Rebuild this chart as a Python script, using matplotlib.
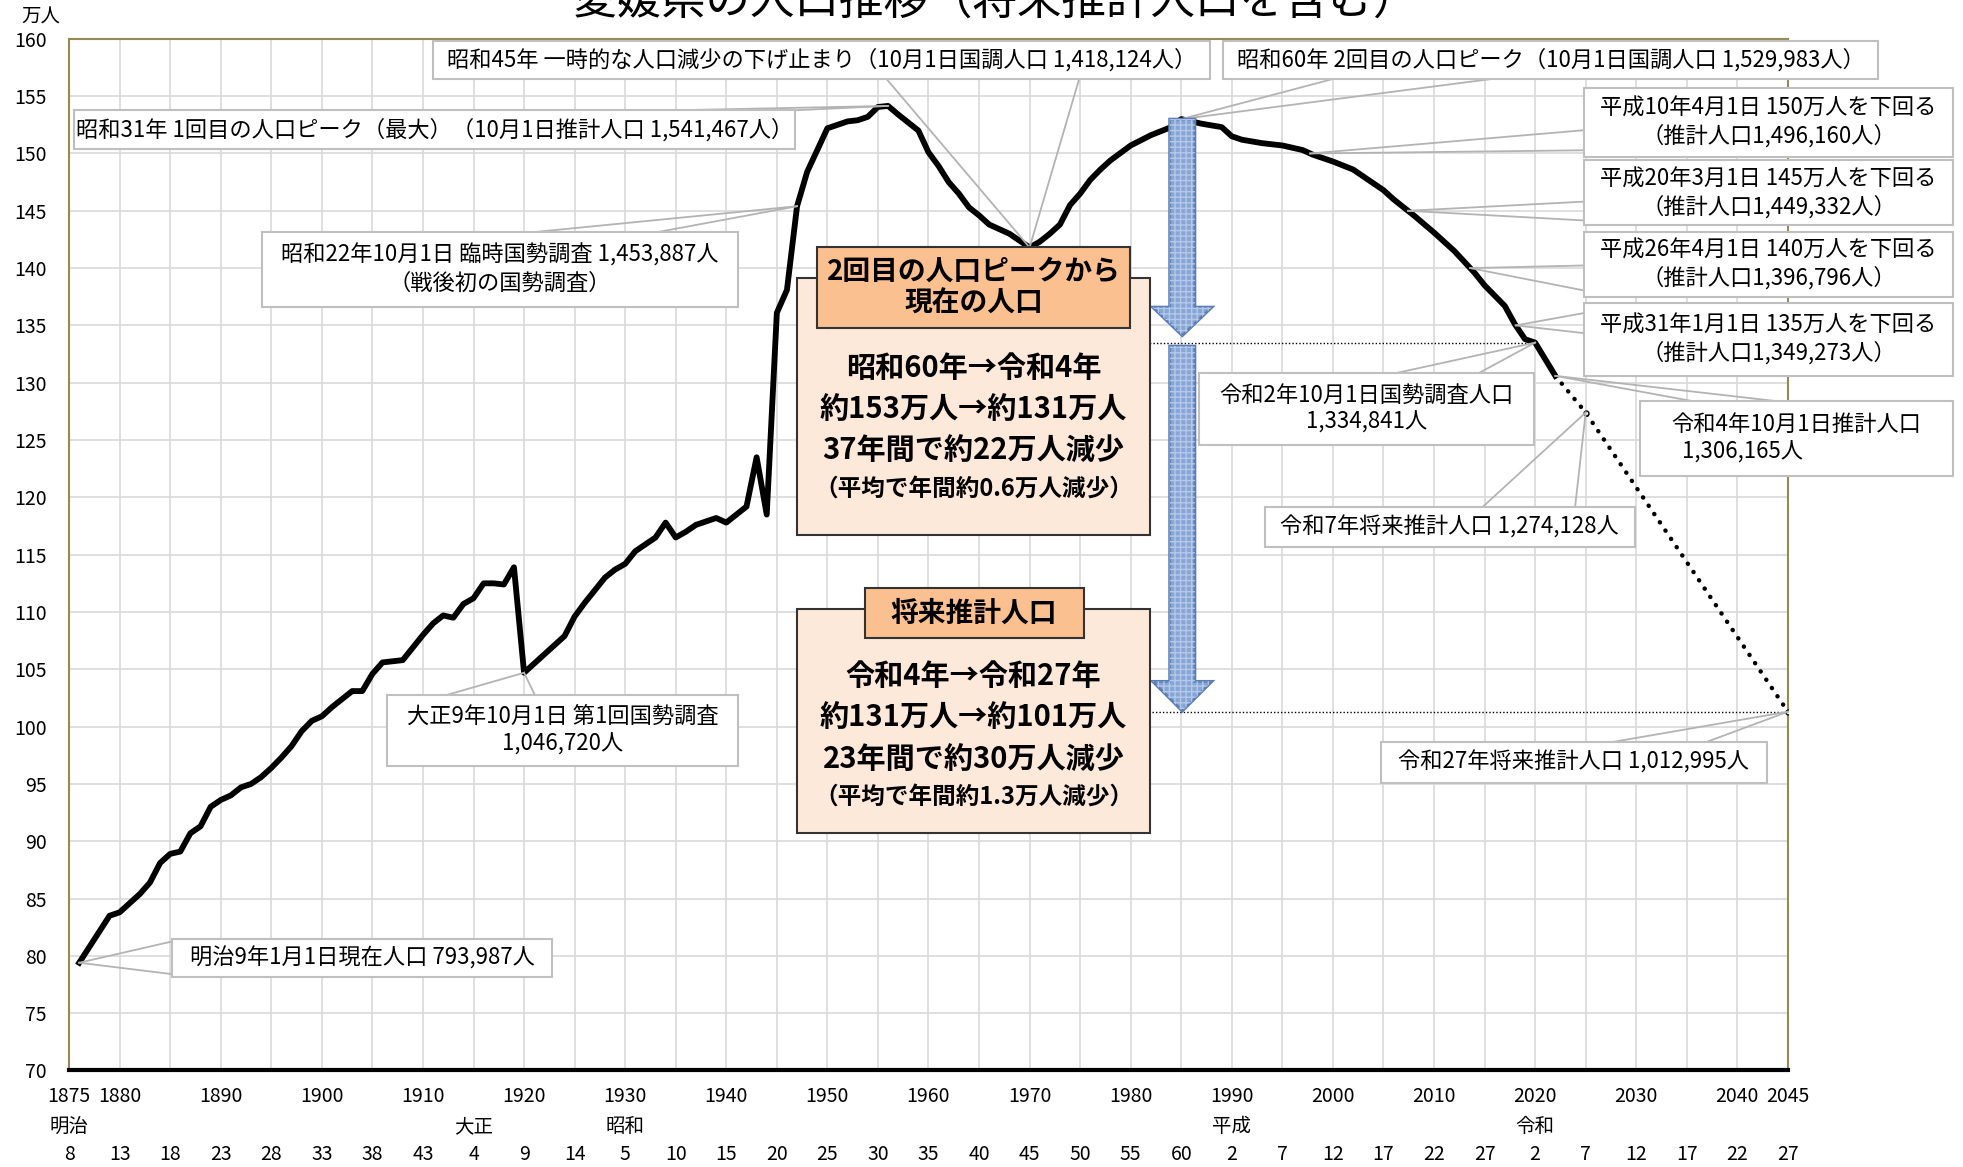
import numpy as np
import matplotlib.pyplot as plt
from matplotlib.patches import Rectangle, FancyArrow
from matplotlib.transforms import blended_transform_factory

plt.rcParams['font.family'] = ['Noto Sans CJK JP', 'DejaVu Sans']

# population (10,000 people)
years = [1876, 1879, 1880, 1882, 1883, 1884, 1885, 1886, 1887, 1888, 1889,
         1890, 1891, 1892, 1893, 1894, 1895, 1896, 1897, 1898, 1899, 1900,
         1901, 1902, 1903, 1904, 1905, 1906, 1907, 1908, 1909, 1910, 1911,
         1912, 1913, 1914, 1915, 1916, 1917, 1918, 1919, 1920, 1922, 1924,
         1925, 1926, 1928, 1929, 1930, 1931, 1933, 1934, 1935, 1936, 1937,
         1939, 1940, 1942, 1943, 1944, 1945, 1946, 1947, 1948, 1950, 1951,
         1952, 1953, 1954, 1955, 1956, 1957, 1959, 1960, 1961, 1962, 1963,
         1964, 1965, 1966, 1968, 1970, 1971, 1972, 1973, 1974, 1975, 1976,
         1977, 1978, 1980, 1982, 1984, 1985, 1986, 1987, 1989, 1990, 1991,
         1993, 1995, 1997, 1998, 2000, 2002, 2003, 2005, 2006, 2008, 2010,
         2012, 2014, 2015, 2017, 2018, 2019, 2020, 2022]
pop = [79.4, 83.5, 83.8, 85.4, 86.4, 88.1, 88.9, 89.1, 90.7, 91.3, 93.0,
       93.6, 94.0, 94.7, 95.0, 95.6, 96.4, 97.3, 98.3, 99.6, 100.5, 100.9,
       101.7, 102.4, 103.1, 103.1, 104.6, 105.6, 105.7, 105.8, 106.9, 108.0, 109.0,
       109.7, 109.5, 110.7, 111.2, 112.5, 112.5, 112.4, 113.9, 104.7, 106.3, 107.9,
       109.6, 110.8, 113.0, 113.7, 114.2, 115.3, 116.5, 117.8, 116.5, 117.0, 117.6,
       118.2, 117.8, 119.2, 123.5, 118.5, 136.1, 138.1, 145.4, 148.4, 152.2, 152.5,
       152.8, 152.9, 153.2, 154.06, 154.15, 153.4, 152.0, 150.1, 148.9, 147.5, 146.5,
       145.3, 144.6, 143.8, 143.0, 141.8, 142.3, 143.0, 143.8, 145.5, 146.5, 147.7,
       148.6, 149.4, 150.7, 151.6, 152.3, 153.0, 152.8, 152.6, 152.3, 151.5, 151.2,
       150.9, 150.7, 150.3, 149.9, 149.3, 148.6, 148.0, 146.8, 146.0, 144.6, 143.1,
       141.5, 139.6, 138.5, 136.7, 135.1, 133.8, 133.5, 130.6]

proj_years = [2022, 2025, 2045]
proj_pop = [130.6, 127.4, 101.3]

year_labels = [1875, 1880, 1890, 1900, 1910, 1920, 1930, 1940, 1950, 1960,
               1970, 1980, 1990, 2000, 2010, 2020, 2030, 2040, 2045]
era_names = ['明治', '大正', '昭和', '平成', '令和']
era_start = [1875, 1915, 1930, 1990, 2020]
era_ticks = list(range(1875, 2046, 5))
era_nums = [8, 13, 18, 23, 28, 33, 38, 43, 4, 9, 14, 5, 10, 15, 20, 25, 30,
            35, 40, 45, 50, 55, 60, 2, 7, 12, 17, 22, 27, 2, 7, 12, 17, 22, 27]
cross_levels = [150, 145, 140, 135]


def at(y):
    return y, pop[years.index(y)]


def cross(level):
    ys = np.array(years)
    ps = np.array(pop)
    m = ys >= 1990
    return float(np.interp(level, ps[m][::-1], ys[m][::-1])), level


fig = plt.figure(figsize=(19.63, 11.67), dpi=100)
ax = fig.add_axes([0.0352, 0.0827, 0.8756, 0.884])
ax.set_xlim(1875, 2045)
ax.set_ylim(70, 160)

ax.set_xticks(era_ticks)
ax.set_xticklabels([])
ax.set_yticks(range(70, 161, 5))
ax.tick_params(length=0, labelsize=14, pad=16)
ax.grid(True, color='#d9d9d9', lw=1.2, zorder=0)
ax.set_axisbelow(True)
for s in ['left', 'top', 'right']:
    ax.spines[s].set_color('#948a54')
    ax.spines[s].set_linewidth(1.5)
ax.spines['bottom'].set_color('black')
ax.spines['bottom'].set_linewidth(3)

# main line + projection
ax.plot(years, pop, color='black', lw=4.2, solid_joinstyle='round', zorder=3)
ax.plot(proj_years, proj_pop, color='black', lw=3.2, ls=(0, (0.05, 2.2)),
        dash_capstyle='round', zorder=3)
ax.plot(proj_years[1:], proj_pop[1:], 'o', ms=3.5, mfc='white', mec='black',
        mew=1, zorder=4)

# dotted reference lines
ax.plot([1981.5, 2020], [at(2020)[1]] * 2, color='black', lw=1, ls=(0, (1, 1.5)), zorder=2)
ax.plot([1982.1, 2045], [proj_pop[-1]] * 2, color='black', lw=1, ls=(0, (1, 1.5)), zorder=2)

# blue arrows
for y0, y1, hl in [(153.0, 134.1, 2.5), (133.2, 101.35, 2.6)]:
    kw = dict(width=2.5, head_width=5.9, head_length=hl, length_includes_head=True)
    ax.add_patch(FancyArrow(1985.1, y0, 0, y1 - y0, fc='#87a6d6', ec='#5a7db5',
                            lw=2, zorder=6, **kw))
    ax.add_patch(FancyArrow(1985.1, y0, 0, y1 - y0, fill=False, ec='#b4c8e8',
                            lw=0, hatch='+++', zorder=6, **kw))

# summary panels
def panel(box, title_box, title, lines, small):
    x0, x1, y0, y1 = box
    ax.add_patch(Rectangle((x0, y0), x1 - x0, y1 - y0, fc='#fde9d9', ec='#333333',
                           lw=1.5, zorder=7))
    tx0, tx1, ty0, ty1 = title_box
    ax.add_patch(Rectangle((tx0, ty0), tx1 - tx0, ty1 - ty0, fc='#fac090', ec='#333333',
                           lw=1.5, zorder=8))
    cx = (x0 + x1) / 2
    ax.text(cx, (ty0 + ty1) / 2, title, ha='center', va='center', fontsize=20,
            fontweight='bold', linespacing=1.15, zorder=9)
    for yy, s in lines:
        ax.text(cx, yy, s, ha='center', va='center', fontsize=21, fontweight='bold', zorder=9)
    ax.text(cx, small[0], small[1], ha='center', va='center', fontsize=17,
            fontweight='bold', zorder=9)


panel((1947.0, 1981.9, 116.75, 139.1), (1949.0, 1979.9, 134.8, 141.8),
      '2回目の人口ピークから\n現在の人口',
      [(131.3, '昭和60年→令和4年'), (127.7, '約153万人→約131万人'),
       (124.1, '37年間で約22万人減少')], (120.8, '（平均で年間約0.6万人減少）'))
panel((1947.0, 1981.9, 90.75, 110.3), (1953.7, 1975.4, 107.7, 112.05),
      '将来推計人口',
      [(104.4, '令和4年→令和27年'), (100.8, '約131万人→約101万人'),
       (97.2, '23年間で約30万人減少')], (93.9, '（平均で年間約1.3万人減少）'))

# callouts
callouts = [
    ('昭和45年 一時的な人口減少の下げ止まり（10月1日国調人口 1,418,124人）',
     (1911.0, 1987.8, 156.5, 159.78), [(1955.85, 156.5), (1974.9, 156.5)], at(1970)),
    ('昭和31年 1回目の人口ピーク（最大）（10月1日推計人口 1,541,467人）',
     (1875.5, 1946.8, 150.39, 153.77), [(1935.05, 153.77), (1946.8, 153.77)], at(1956)),
    ('昭和22年10月1日 臨時国勢調査 1,453,887人\n（戦後初の国勢調査）',
     (1894.07, 1941.12, 136.63, 143.18), [(1921.43, 143.18), (1933.44, 143.18)], at(1947)),
    ('昭和60年 2回目の人口ピーク（10月1日国調人口 1,529,983人）',
     (1989.16, 2053.91, 156.5, 159.78), [(2000.0, 156.5), (2015.7, 156.5)], at(1985)),
    ('平成10年4月1日 150万人を下回る\n（推計人口1,496,160人）',
     (2024.82, 2061.34, 149.73, 155.74), [(2024.82, 152.03), (2024.82, 150.28)], cross(cross_levels[0])),
    ('平成20年3月1日 145万人を下回る\n（推計人口1,449,332人）',
     (2024.82, 2061.34, 143.73, 149.41), [(2024.82, 145.8), (2024.82, 144.16)], cross(cross_levels[1])),
    ('平成26年4月1日 140万人を下回る\n（推計人口1,396,796人）',
     (2024.82, 2061.34, 137.5, 143.18), [(2024.82, 140.23), (2024.82, 138.05)], cross(cross_levels[2])),
    ('平成31年1月1日 135万人を下回る\n（推計人口1,349,273人）',
     (2024.82, 2061.34, 130.62, 136.95), [(2024.82, 136.08), (2024.82, 134.33)], cross(cross_levels[3])),
    ('令和4年10月1日推計人口\n  1,306,165人',
     (2030.39, 2061.34, 121.88, 128.43), [(2035.34, 128.43), (2043.51, 128.43)], at(2022)),
    ('令和2年10月1日国勢調査人口\n1,334,841人',
     (1986.8, 2019.86, 124.61, 130.84), [(2006.24, 130.84), (2014.42, 130.84)], at(2020)),
    ('令和7年将来推計人口 1,274,128人',
     (1993.24, 2029.89, 115.65, 119.15), [(2014.79, 119.15), (2023.95, 119.15)],
     (proj_years[1], proj_pop[1])),
    ('令和27年将来推計人口 1,012,995人',
     (2004.76, 2042.89, 95.12, 98.62), [(2027.42, 98.62), (2036.83, 98.62)],
     (proj_years[2], proj_pop[2])),
    ('大正9年10月1日 第1回国勢調査\n1,046,720人',
     (1906.45, 1941.12, 96.54, 102.77), [(1912.39, 102.77), (1921.06, 102.77)], at(1920)),
    ('明治9年1月1日現在人口 793,987人',
     (1885.15, 1922.79, 78.19, 81.47), [(1885.15, 81.25), (1885.15, 78.41)], at(1876)),
]

for text, (x0, x1, y0, y1), base, (tx, ty) in callouts:
    for bx, by in base:
        ax.plot([bx, tx], [by, ty], color='#b3b3b3', lw=1.3, zorder=4, clip_on=False)
    ax.add_patch(Rectangle((x0, y0), x1 - x0, y1 - y0, fc='white', ec='#bfbfbf',
                           lw=1.5, zorder=5, clip_on=False))
    ma = 'left' if text.startswith('令和4年') else 'center'
    ax.text((x0 + x1) / 2, (y0 + y1) / 2, text, ha='center', va='center',
            multialignment=ma, fontsize=16, linespacing=1.25, zorder=6, clip_on=False)

# x axis label rows
tr = blended_transform_factory(ax.transData, ax.transAxes)
for y in year_labels:
    ax.text(y, -0.0255, str(y), transform=tr, ha='center', va='center', fontsize=14)
for name, y in zip(era_names, era_start):
    ax.text(y, -0.0546, name, transform=tr, ha='center', va='center', fontsize=14)
for n, y in zip(era_nums, era_ticks):
    ax.text(y, -0.0813, str(n), transform=tr, ha='center', va='center', fontsize=14)

fig.text(0.0209, 0.9854, '万人', ha='center', va='center', fontsize=14)
# title sits partly above the canvas, as in the source image
fig.text(0.507, 0.999, '愛媛県の人口推移（将来推計人口を含む）', ha='center', va='center',
         fontsize=32)

fig.savefig('out.png', dpi=100)
